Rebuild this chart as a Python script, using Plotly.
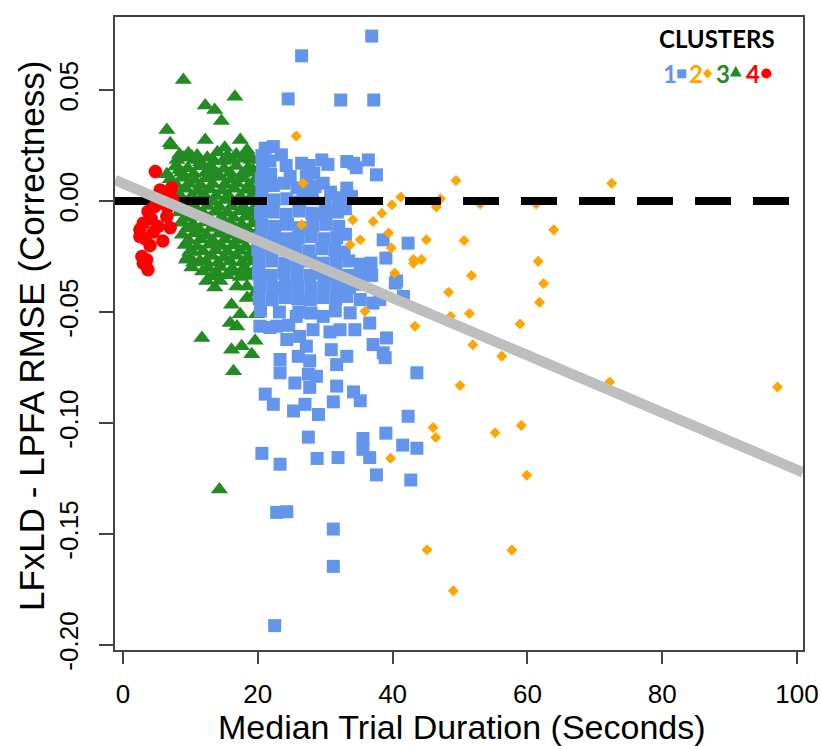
import plotly.graph_objects as go

# ---------------- data ----------------
# Cluster 1 (blue squares): (median trial duration, RMSE difference)
cluster1_points = [
    (36.9, 0.0743), (26.5, 0.0654), (24.5, 0.0460), (32.3, 0.0455), (37.2, 0.0455),
    (21.1, 0.0238), (22.3, 0.0245), (20.6, 0.0205), (23.5, 0.0208), (21.8, 0.0180),
    (20.7, 0.0150), (24.2, 0.0160), (26.5, 0.0170), (27.6, 0.0160), (29.5, 0.0185),
    (30.4, 0.0165), (33.2, 0.0178), (34.2, 0.0170), (36.4, 0.0185), (34.6, 0.0150),
    (37.6, 0.0118), (27.2, 0.0110), (28.3, 0.0125), (29.7, 0.0080), (33.2, 0.0058),
    (33.9, 0.0020), (20.5, 0.0100), (21.9, 0.0120), (20.6, 0.0050), (22.3, 0.0070),
    (23.9, 0.0080), (25.8, 0.0060), (26.7, 0.0050), (28.5, 0.0065), (24.8, 0.0110),
    (30.8, 0.0040), (32.0, 0.0015),
    (20.5, 0.0000), (22.4, 0.0005), (24.3, 0.0010), (26.2, -0.0005), (28.1, 0.0010),
    (30.0, -0.0010), (31.9, 0.0000),
    (20.4, -0.0055), (22.3, -0.0050), (24.2, -0.0060), (26.1, -0.0045), (28.0, -0.0055),
    (29.9, -0.0060), (31.8, -0.0050), (33.0, -0.0035),
    (20.6, -0.0110), (22.5, -0.0115), (24.4, -0.0105), (26.3, -0.0120), (28.2, -0.0110),
    (30.1, -0.0105), (32.0, -0.0115),
    (20.3, -0.0165), (22.2, -0.0160), (24.1, -0.0170), (26.0, -0.0165), (27.9, -0.0160),
    (29.8, -0.0170), (31.7, -0.0165), (33.0, -0.0150),
    (20.0, -0.0220), (21.9, -0.0225), (23.8, -0.0215), (25.7, -0.0220), (27.6, -0.0225),
    (29.5, -0.0215), (31.4, -0.0220), (32.8, -0.0230),
    (20.2, -0.0275), (22.1, -0.0270), (24.0, -0.0280), (25.9, -0.0275), (27.8, -0.0270),
    (29.7, -0.0280), (31.6, -0.0275), (33.5, -0.0270), (35.3, -0.0285), (36.8, -0.0280),
    (20.1, -0.0330), (22.0, -0.0335), (23.9, -0.0325), (25.8, -0.0330), (27.7, -0.0335),
    (29.6, -0.0325), (31.5, -0.0330), (33.4, -0.0335), (35.2, -0.0320), (36.9, -0.0335),
    (20.3, -0.0384), (22.2, -0.0390), (24.1, -0.0380), (26.0, -0.0385), (27.9, -0.0390),
    (29.8, -0.0380), (31.7, -0.0385), (33.6, -0.0390), (35.0, -0.0375), (40.4, -0.0370),
    (20.2, -0.0440), (22.1, -0.0445), (24.0, -0.0435), (25.9, -0.0440), (27.8, -0.0445),
    (29.7, -0.0435), (31.6, -0.0440), (33.2, -0.0430), (35.2, -0.0444), (38.1, -0.0444),
    (41.6, -0.0430), (37.1, -0.0460),
    (20.4, -0.0495), (26.1, -0.0500), (27.9, -0.0505), (29.7, -0.0520), (31.5, -0.0495),
    (33.7, -0.0504), (25.7, -0.0520), (23.2, -0.0500),
    (20.3, -0.0564), (21.8, -0.0570), (22.8, -0.0564), (24.6, -0.0560), (28.2, -0.0580),
    (30.7, -0.0590), (32.2, -0.0580), (34.4, -0.0580), (36.6, -0.0550), (26.2, -0.0610),
    (24.3, -0.0624), (27.2, -0.0654), (30.9, -0.0670), (39.1, -0.0617), (37.1, -0.0647),
    (38.6, -0.0684), (38.9, -0.0706), (33.2, -0.0700), (31.7, -0.0737), (23.3, -0.0714),
    (26.0, -0.0700), (27.7, -0.0720), (23.3, -0.0774), (28.7, -0.0790), (27.5, -0.0780),
    (43.6, -0.0774),
    (27.7, -0.0840), (25.5, -0.0820), (31.7, -0.0834), (34.2, -0.0860), (35.2, -0.0900),
    (31.2, -0.0905), (21.1, -0.0870), (22.3, -0.0916), (25.3, -0.0946), (27.0, -0.0916),
    (29.0, -0.0962), (42.3, -0.0970), (27.5, -0.1064), (35.6, -0.1070), (35.6, -0.1119),
    (36.6, -0.1156), (39.0, -0.1046), (41.5, -0.1100), (43.6, -0.1114), (20.6, -0.1137),
    (23.3, -0.1186), (28.8, -0.1160), (31.9, -0.1156), (37.6, -0.1234), (42.7, -0.1257),
    (22.8, -0.1403), (24.3, -0.1400), (31.2, -0.1478), (31.2, -0.1646), (22.5, -0.1913),
    (38.6, -0.0175), (42.3, -0.0190), (39.0, -0.0257), (40.6, -0.0360),
]

# Cluster 2 (orange diamonds)
cluster2_points = [
    (25.7, 0.0293), (26.5, -0.0107), (26.7, 0.0080), (34.1, -0.0085), (33.7, -0.0197),
    (35.2, -0.0175), (37.1, -0.0092), (38.4, -0.0055), (39.9, -0.0017), (41.2, 0.0018),
    (47.1, 0.0010), (46.5, -0.0027), (49.4, 0.0092), (53.0, -0.0013), (61.3, -0.0013),
    (72.5, 0.0080), (63.9, -0.0130), (39.4, -0.0144), (45.0, -0.0175), (50.6, -0.0178),
    (39.8, -0.0212), (43.1, -0.0264), (44.3, -0.0264), (43.1, -0.0280), (61.6, -0.0272),
    (40.3, -0.0324), (51.7, -0.0336), (62.4, -0.0372), (48.3, -0.0411), (61.8, -0.0456),
    (48.6, -0.0519), (51.4, -0.0507), (58.9, -0.0554), (43.3, -0.0564), (51.9, -0.0648),
    (56.2, -0.0699), (50.0, -0.0831), (72.2, -0.0816), (97.1, -0.0838), (46.0, -0.1021),
    (46.4, -0.1066), (55.2, -0.1044), (39.7, -0.1159), (45.1, -0.1571), (49.0, -0.1756),
    (35.9, -0.0497), (59.1, -0.1011), (59.9, -0.1236), (57.7, -0.1573),
]

# Cluster 3 (green triangles)
cluster3_points = [
    (8.95, 0.0545), (16.6, 0.0470), (12.2, 0.0430), (13.6, 0.0410), (14.6, 0.0360),
    (6.5, 0.0320), (7.2, 0.0250), (12.2, 0.0275), (8.4, 0.0210), (9.7, 0.0215),
    (10.7, 0.0185), (15.1, 0.0240), (17.4, 0.0275), (18.4, 0.0230), (6.5, 0.0120),
    (8.4, 0.0140), (12.9, 0.0140), (19.3, 0.0140), (7.0, 0.0260), (14.0, 0.0220),
    (15.5, 0.0205), (16.8, 0.0210), (9.0, 0.0195), (10.2, 0.0200), (11.5, 0.0175),
    (13.5, 0.0180), (17.8, 0.0190), (12.5, 0.0195), (19.0, 0.0185),
    (8.0, 0.0185), (11.0, 0.0205), (14.8, 0.0180), (16.2, 0.0185), (18.8, 0.0205),
    (7.8, 0.0155), (9.6, 0.0148), (11.4, 0.0157), (13.2, 0.0150), (15.0, 0.0145),
    (16.8, 0.0158), (18.6, 0.0150),
    (8.7, 0.0127), (10.5, 0.0122), (12.3, 0.0128), (14.1, 0.0121), (15.9, 0.0126),
    (17.7, 0.0123), (19.5, 0.0128),
    (7.0, 0.0098), (8.8, 0.0105), (10.6, 0.0095), (12.4, 0.0102), (14.2, 0.0108),
    (16.0, 0.0097), (17.8, 0.0103), (19.6, 0.0095),
    (7.9, 0.0073), (9.7, 0.0078), (11.5, 0.0072), (13.3, 0.0077), (15.1, 0.0074),
    (16.9, 0.0079), (18.7, 0.0072),
    (7.5, 0.0048), (9.3, 0.0055), (11.1, 0.0045), (12.9, 0.0052), (14.7, 0.0047),
    (16.5, 0.0055), (18.3, 0.0050), (19.9, 0.0043),
    (8.4, 0.0027), (10.2, 0.0022), (12.0, 0.0028), (13.8, 0.0023), (15.6, 0.0026),
    (17.4, 0.0021), (19.2, 0.0027),
    (8.0, 0.0002), (9.8, -0.0005), (11.6, 0.0004), (13.4, -0.0003), (15.2, 0.0005),
    (17.0, -0.0002), (18.8, 0.0003),
    (8.9, -0.0023), (10.7, -0.0028), (12.5, -0.0022), (14.3, -0.0027), (16.1, -0.0024),
    (17.9, -0.0029), (19.7, -0.0023),
    (8.3, -0.0052), (10.1, -0.0045), (11.9, -0.0055), (13.7, -0.0048), (15.5, -0.0053),
    (17.3, -0.0046), (19.1, -0.0054),
    (9.2, -0.0077), (11.0, -0.0072), (12.8, -0.0078), (14.6, -0.0073), (16.4, -0.0076),
    (18.2, -0.0071), (19.8, -0.0078),
    (8.6, -0.0098), (10.4, -0.0105), (12.2, -0.0097), (14.0, -0.0103), (15.8, -0.0099),
    (17.6, -0.0106), (19.4, -0.0100),
    (9.5, -0.0123), (11.3, -0.0128), (13.1, -0.0122), (14.9, -0.0127), (16.7, -0.0124),
    (18.5, -0.0129),
    (8.8, -0.0152), (10.6, -0.0147), (12.4, -0.0155), (14.2, -0.0148), (16.0, -0.0153),
    (17.8, -0.0146), (19.6, -0.0151),
    (9.7, -0.0177), (11.5, -0.0172), (13.3, -0.0178), (15.1, -0.0173), (16.9, -0.0176),
    (18.7, -0.0171),
    (9.2, -0.0198), (11.0, -0.0205), (12.8, -0.0197), (14.6, -0.0203), (16.4, -0.0199),
    (18.2, -0.0206), (19.9, -0.0200),
    (10.1, -0.0223), (11.9, -0.0228), (13.7, -0.0222), (15.5, -0.0227), (17.3, -0.0224),
    (19.1, -0.0229),
    (9.6, -0.0252), (13.2, -0.0248), (15.0, -0.0255), (16.8, -0.0247), (18.6, -0.0253),
    (10.5, -0.0277), (12.3, -0.0272), (14.1, -0.0278), (15.9, -0.0273), (17.7, -0.0276),
    (19.4, -0.0271),
    (12.6, -0.0302), (14.4, -0.0297), (16.2, -0.0305), (18.0, -0.0298), (19.8, -0.0303),
    (11.8, -0.0318), (13.9, -0.0323), (16.3, -0.0320), (18.3, -0.0326),
    (13.2, -0.0340), (15.4, -0.0335), (17.4, -0.0342), (19.2, -0.0338),
    (16.4, -0.0767), (11.7, -0.0617), (16.1, -0.0670), (17.6, -0.0655), (19.6, -0.0630),
    (19.1, -0.0690), (15.9, -0.0550), (16.9, -0.0565), (16.1, -0.0467), (18.4, -0.0437),
    (19.6, -0.0415), (17.4, -0.0510), (19.8, -0.0510), (13.6, -0.0390), (12.4, -0.0360),
    (14.4, -0.0360), (10.2, -0.0300), (11.4, -0.0270), (16.9, -0.0385), (18.4, -0.0385),
    (14.3, -0.1300), (9.4, -0.0265), (9.9, -0.0230),
]

# Cluster 4 (red circles)
cluster4_points = [
    (4.8, 0.0133), (5.5, 0.0050), (7.2, 0.0060), (7.4, 0.0005), (6.2, 0.0037),
    (5.8, -0.0010), (4.7, -0.0025), (3.7, -0.0047), (6.5, -0.0070), (3.0, -0.0100),
    (5.2, -0.0115), (7.0, -0.0120), (2.5, -0.0130), (4.5, -0.0140), (2.5, -0.0160),
    (5.9, -0.0180), (4.0, -0.0200), (2.8, -0.0250), (3.5, -0.0265), (3.0, -0.0280),
    (3.7, -0.0310), (6.0, 0.0010), (4.2, -0.0080), (3.3, -0.0170), (6.6, -0.0030),
]

c1_x = [p[0] for p in cluster1_points]; c1_y = [p[1] for p in cluster1_points]
c2_x = [p[0] for p in cluster2_points]; c2_y = [p[1] for p in cluster2_points]
c3_x = [p[0] for p in cluster3_points]; c3_y = [p[1] for p in cluster3_points]
c4_x = [p[0] for p in cluster4_points]; c4_y = [p[1] for p in cluster4_points]

# fitted regression line
fit_intercept = 0.0079
fit_slope = -0.00129

x_ticks = [0, 20, 40, 60, 80, 100]
y_ticks = [-0.20, -0.15, -0.10, -0.05, 0.00, 0.05]
y_tick_labels = ["-0.20", "-0.15", "-0.10", "-0.05", "0.00", "0.05"]

legend_labels = ["1", "2", "3", "4"]

# ---------------- styling ----------------
X_RANGE = [-1.19, 100.89]
Y_RANGE = [-0.2023, 0.0829]
BLUE, ORANGE, GREEN, RED = "#6495ED", "#FFA500", "#228B22", "#FF0000"
FONT = "Liberation Sans, Arial, sans-serif"
AX = "#444444"

W, H = 820, 746
PL, PR, PT, PB = 115, 803, 17, 650  # plot area in page pixels
ML, MR, MT, MB = PL, W - PR, PT, H - PB


def px_x(p):
    return (p - PL) / (PR - PL)


def px_y(p):
    return (PB - p) / (PB - PT)


fig = go.Figure()
fig.add_trace(go.Scatter(x=c3_x, y=c3_y, mode="markers",
                         marker=dict(symbol="triangle-up", size=15, color=GREEN, line=dict(width=0))))
fig.add_trace(go.Scatter(x=c1_x, y=c1_y, mode="markers",
                         marker=dict(symbol="square", size=13, color=BLUE, line=dict(width=0))))
fig.add_trace(go.Scatter(x=c2_x, y=c2_y, mode="markers",
                         marker=dict(symbol="diamond", size=8.5, color=ORANGE, line=dict(width=0))))
fig.add_trace(go.Scatter(x=X_RANGE, y=[0, 0], mode="lines",
                         line=dict(color="black", width=8, dash="36px,22px")))
fig.add_trace(go.Scatter(x=c4_x, y=c4_y, mode="markers",
                         marker=dict(symbol="circle", size=13.5, color=RED, line=dict(width=0))))
fig.add_trace(go.Scatter(x=X_RANGE, y=[fit_intercept + fit_slope * v for v in X_RANGE], mode="lines",
                         line=dict(color="#BEBEBE", width=10.5)))

annotations = [
    dict(text="Median Trial Duration (Seconds)", xref="paper", yref="paper",
         x=px_x(462), y=px_y(727), xanchor="center", yanchor="middle", showarrow=False,
         font=dict(family=FONT, size=34, color="black")),
    dict(text="LFxLD - LPFA RMSE (Correctness)", xref="paper", yref="paper",
         x=px_x(31), y=px_y(336), xanchor="center", yanchor="middle", showarrow=False,
         textangle=-90, font=dict(family=FONT, size=35, color="black")),
    dict(text="<b>CLUSTERS</b>", xref="paper", yref="paper",
         x=px_x(717), y=px_y(39), xanchor="center", yanchor="middle", showarrow=False,
         font=dict(family="Lato, sans-serif", size=24, color="black")),
]
legend_colors = [BLUE, ORANGE, GREEN, RED]
legend_digit_x = [670, 696, 722.5, 753]
for lab, col, xx in zip(legend_labels, legend_colors, legend_digit_x):
    annotations.append(dict(text="<b>%s</b>" % lab, xref="paper", yref="paper",
                            x=px_x(xx), y=px_y(73.5), xanchor="center", yanchor="middle",
                            showarrow=False, font=dict(family="Lato, sans-serif", size=24, color=col)))

shapes = [
    dict(type="rect", xref="paper", yref="paper", x0=px_x(677.3), x1=px_x(686.3),
         y0=px_y(78.3), y1=px_y(69.3), fillcolor=BLUE, line=dict(width=0)),
    dict(type="path", xref="paper", yref="paper",
         path="M %f %f L %f %f L %f %f L %f %f Z" % (px_x(702.8), px_y(73.5), px_x(707.5), px_y(68.5),
                                                    px_x(712.2), px_y(73.5), px_x(707.5), px_y(78.5)),
         fillcolor=ORANGE, line=dict(width=0)),
    dict(type="path", xref="paper", yref="paper",
         path="M %f %f L %f %f L %f %f Z" % (px_x(729.8), px_y(76.5), px_x(735.8), px_y(66.0),
                                            px_x(741.8), px_y(76.5)),
         fillcolor=GREEN, line=dict(width=0)),
    dict(type="circle", xref="paper", yref="paper", x0=px_x(761.2), x1=px_x(771.4),
         y0=px_y(78.6), y1=px_y(68.4), fillcolor=RED, line=dict(width=0)),
]

fig.update_layout(
    width=W, height=H, margin=dict(l=ML, r=MR, t=MT, b=MB, autoexpand=False),
    plot_bgcolor="white", paper_bgcolor="white", showlegend=False,
    annotations=annotations, shapes=shapes,
    xaxis=dict(range=X_RANGE, tickvals=x_ticks, ticks="outside", ticklen=12, tickwidth=1.5,
               tickcolor=AX, showline=True, linecolor=AX, linewidth=1.5, mirror=True,
               showgrid=False, zeroline=False, ticklabelstandoff=8, automargin=False,
               tickfont=dict(family=FONT, size=26, color="black")),
    yaxis=dict(range=Y_RANGE, tickvals=y_ticks, ticktext=y_tick_labels, ticks="outside",
               ticklen=14, tickwidth=1.5, tickcolor=AX, showline=True, linecolor=AX,
               linewidth=1.5, mirror=True, showgrid=False, zeroline=False, tickangle=-90,
               ticklabelstandoff=11, automargin=False,
               tickfont=dict(family=FONT, size=26, color="black")),
)

# remove the default page margin so the figure sits at the window's top-left corner
fig.write_html("out.html", config={"displayModeBar": False},
               post_script="document.body.style.margin='0';document.body.style.overflow='hidden';")
